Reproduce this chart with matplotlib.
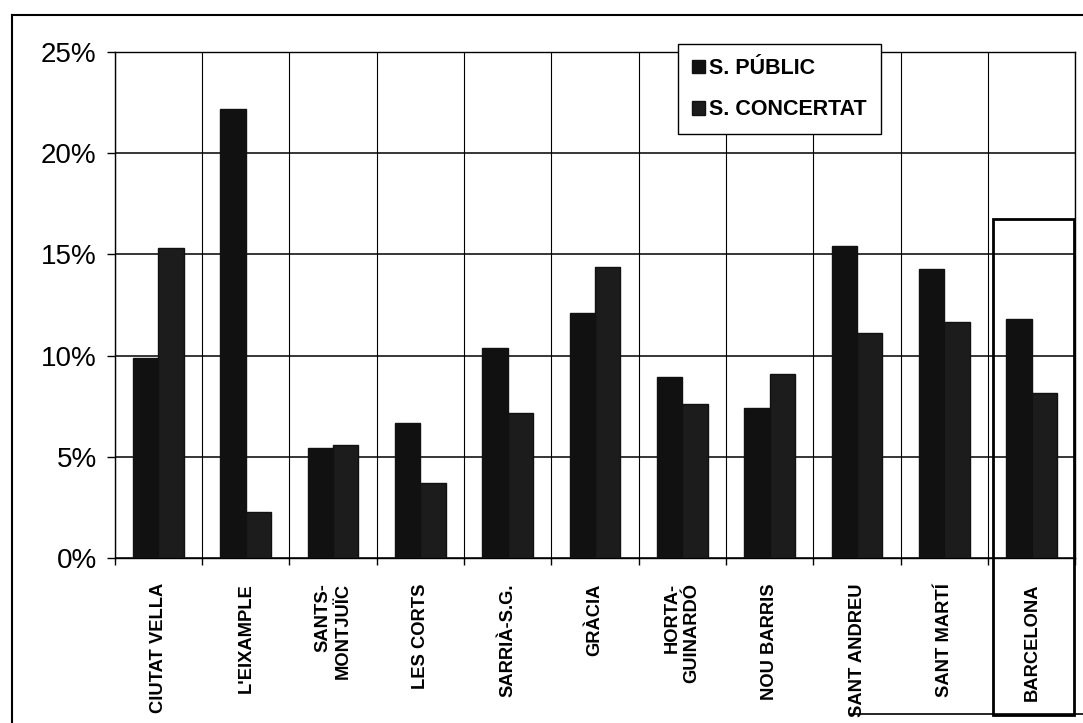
import matplotlib
matplotlib.use("Agg")
import matplotlib.pyplot as plt
import numpy as np
from matplotlib.patches import Rectangle
from matplotlib.lines import Line2D
from matplotlib.ticker import FixedLocator, PercentFormatter

############################## data ##############################

districts = ["CIUTAT VELLA", "L'EIXAMPLE", "SANTS-\nMONTJUÏC", "LES CORTS", "SARRIÀ-S.G.",
             "GRÀCIA", "HORTA-\nGUINARDÓ", "NOU BARRIS", "SANT ANDREU", "SANT MARTÍ", "BARCELONA"]
s_public = [9.9, 22.2, 5.45, 6.7, 10.4, 12.1, 8.95, 7.4, 15.4, 14.3, 11.8]
s_concertat = [15.3, 2.3, 5.6, 3.7, 7.15, 14.4, 7.6, 9.1, 11.1, 11.65, 8.15]
y_ticks = [0, 5, 10, 15, 20, 25]

############################## plot ##############################

plt.rcParams['font.family'] = ['Liberation Sans', 'DejaVu Sans']

fig = plt.figure(figsize=(10.83, 7.23), dpi=100)
ax = fig.add_axes([0.106, 0.228, 0.887, 0.700])

x = np.arange(len(districts))
w = 0.29
ax.bar(x - w / 2, s_public, w, color='#111111', edgecolor='#111111', label='S. PÚBLIC', zorder=3)
ax.bar(x + w / 2, s_concertat, w, color='#1c1c1c', edgecolor='#111111', label='S. CONCERTAT', zorder=3)

ax.set_xlim(-0.5, len(districts) - 0.5)
ax.set_ylim(0, 25)
ax.yaxis.set_major_locator(FixedLocator(y_ticks))
ax.yaxis.set_major_formatter(PercentFormatter(decimals=0))
ax.tick_params(axis='y', labelsize=20, length=6, width=1, pad=7, color='black')

# boundaries get the grid + little ticks, centres get the names
ax.set_xticks(np.arange(len(districts) + 1) - 0.5)
ax.set_xticklabels([])
ax.tick_params(axis='x', which='major', length=5, width=1, direction='out')
ax.set_xticks(x, minor=True)
ax.set_xticklabels(districts, minor=True, rotation=90, fontsize=13.2, fontweight='bold',
                   va='top', ha='center', multialignment='right')
ax.tick_params(axis='x', which='minor', length=0, pad=18)

ax.grid(True, axis='y', color='black', linewidth=1.1, zorder=0)
ax.grid(True, axis='x', which='major', color='black', linewidth=0.8, zorder=0)
for s in ax.spines.values():
    s.set_linewidth(1)
    s.set_color('black')

leg = ax.legend(loc='upper left', bbox_to_anchor=(678 / 1083, 1 - 44 / 723),
                bbox_transform=fig.transFigure, frameon=True, fancybox=False,
                prop={'weight': 'bold', 'size': 15.5}, handlelength=0.6, handleheight=0.6,
                handletextpad=0.2, borderpad=0.65, labelspacing=0.95, borderaxespad=0)
leg.get_frame().set_edgecolor('black')
leg.get_frame().set_linewidth(1)
leg.get_frame().set_alpha(1)
leg.set_zorder(5)

# box around the Barcelona total
trans = matplotlib.transforms.blended_transform_factory(ax.transData, ax.transAxes)
ax.add_patch(Rectangle((9.56, -0.31), 0.92, 0.98, transform=trans, fill=False,
                       edgecolor='black', linewidth=2, clip_on=False, zorder=6))

# outer frame of the scanned chart
fig.add_artist(Line2D([12 / 1083, 12 / 1083], [0, 1 - 15 / 723], color='black', linewidth=1.5))
fig.add_artist(Line2D([12 / 1083, 1], [1 - 15 / 723, 1 - 15 / 723], color='black', linewidth=1.5))
fig.add_artist(Line2D([850 / 1083, 1], [1 - 714 / 723, 1 - 714 / 723], color='black', linewidth=1.2))

fig.savefig('out.png', dpi=100)
